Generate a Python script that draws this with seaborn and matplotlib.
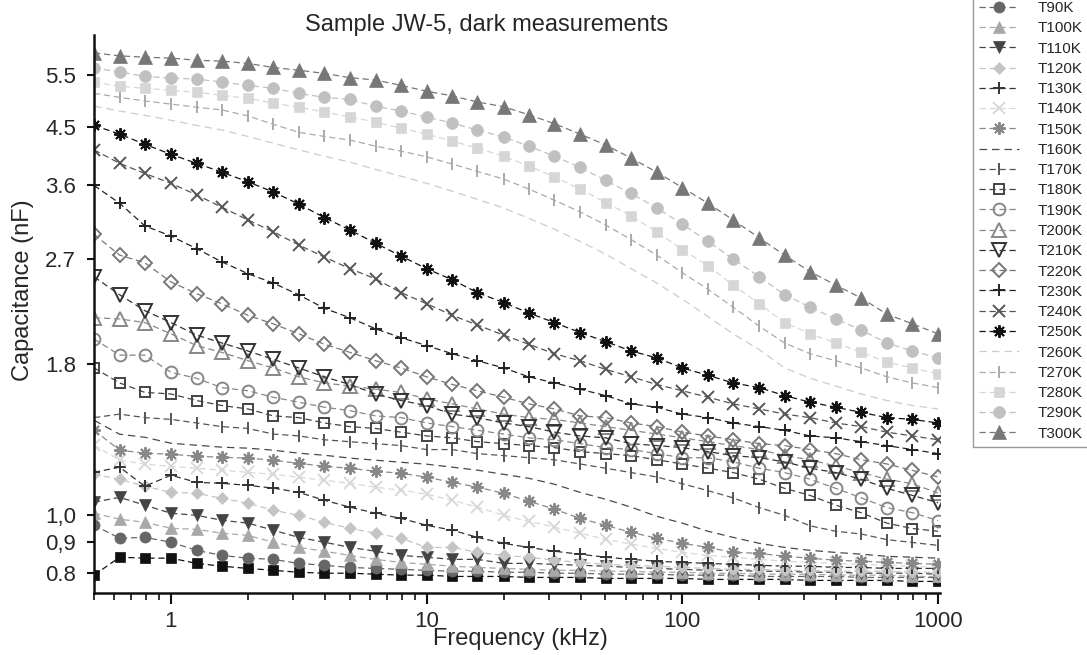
import matplotlib
matplotlib.use("Agg")
import matplotlib.pyplot as plt
from matplotlib.ticker import FixedLocator, FixedFormatter, LogLocator, NullFormatter, NullLocator
import seaborn as sns

# frequencies (kHz), 10 points per decade
freq = [0.5, 0.63, 0.79, 1.0, 1.26, 1.58, 2.0, 2.51, 3.16, 3.98,
        5.01, 6.31, 7.94, 10, 12.6, 15.8, 20, 25.1, 31.6, 39.8,
        50.1, 63.1, 79.4, 100, 126, 158, 200, 251, 316, 398,
        501, 631, 794, 1000]

# capacitance (nF) per temperature
T80K = [0.793, 0.850, 0.847, 0.847, 0.830, 0.821, 0.814, 0.808, 0.802, 0.799, 0.799, 0.796, 0.793, 0.793, 0.789, 0.789, 0.789,
        0.786, 0.786, 0.786, 0.783, 0.783, 0.783, 0.783, 0.780, 0.780, 0.780, 0.780, 0.777, 0.777, 0.777, 0.777, 0.774, 0.774]
T90K = [0.962, 0.915, 0.918, 0.901, 0.873, 0.856, 0.847, 0.843, 0.830, 0.824, 0.817, 0.814, 0.811, 0.808, 0.805, 0.805, 0.802,
        0.802, 0.799, 0.799, 0.796, 0.796, 0.796, 0.793, 0.793, 0.793, 0.789, 0.789, 0.789, 0.789, 0.786, 0.786, 0.786, 0.786]
T100K = [1.008, 0.985, 0.973, 0.951, 0.947, 0.933, 0.925, 0.901, 0.883, 0.870, 0.856, 0.843, 0.833, 0.827, 0.821, 0.817, 0.814,
         0.811, 0.808, 0.808, 0.805, 0.805, 0.802, 0.802, 0.799, 0.799, 0.796, 0.796, 0.796, 0.793, 0.793, 0.793, 0.789, 0.789]
T110K = [1.052, 1.072, 1.040, 1.008, 1.000, 0.981, 0.970, 0.944, 0.918, 0.901, 0.883, 0.870, 0.856, 0.850, 0.843, 0.843, 0.830,
         0.830, 0.827, 0.824, 0.821, 0.817, 0.814, 0.811, 0.808, 0.808, 0.805, 0.805, 0.802, 0.802, 0.799, 0.799, 0.799, 0.796]
T120K = [1.172, 1.150, 1.119, 1.093, 1.089, 1.068, 1.048, 1.020, 1.000, 0.973, 0.951, 0.933, 0.915, 0.883, 0.883, 0.866, 0.856,
         0.850, 0.840, 0.833, 0.827, 0.824, 0.821, 0.817, 0.814, 0.811, 0.811, 0.808, 0.808, 0.805, 0.805, 0.805, 0.802, 0.802]
T130K = [1.181, 1.205, 1.119, 1.168, 1.136, 1.132, 1.123, 1.111, 1.093, 1.060, 1.032, 1.008, 0.988, 0.962, 0.944, 0.918, 0.897,
         0.883, 0.870, 0.860, 0.850, 0.843, 0.837, 0.833, 0.830, 0.827, 0.824, 0.821, 0.821, 0.817, 0.817, 0.814, 0.814, 0.814]
T140K = [1.312, 1.238, 1.219, 1.209, 1.200, 1.191, 1.181, 1.172, 1.159, 1.145, 1.132, 1.115, 1.102, 1.085, 1.060, 1.032, 1.000,
         0.977, 0.955, 0.933, 0.911, 0.894, 0.880, 0.866, 0.856, 0.850, 0.843, 0.837, 0.833, 0.830, 0.827, 0.824, 0.821, 0.817]
T150K = [1.390, 1.287, 1.272, 1.267, 1.257, 1.252, 1.248, 1.238, 1.223, 1.209, 1.200, 1.186, 1.177, 1.159, 1.136, 1.115, 1.089,
         1.056, 1.024, 0.988, 0.962, 0.936, 0.915, 0.897, 0.883, 0.866, 0.863, 0.853, 0.847, 0.840, 0.837, 0.833, 0.830, 0.827]
T160K = [1.445, 1.369, 1.353, 1.322, 1.312, 1.302, 1.297, 1.287, 1.272, 1.262, 1.248, 1.238, 1.228, 1.219, 1.205, 1.191, 1.172,
         1.154, 1.128, 1.093, 1.064, 1.032, 0.996, 0.970, 0.940, 0.918, 0.897, 0.883, 0.873, 0.866, 0.860, 0.853, 0.850, 0.847]
T170K = [1.46, 1.48, 1.46, 1.45, 1.43, 1.41, 1.40, 1.37, 1.36, 1.34, 1.33, 1.32, 1.31, 1.29, 1.29, 1.27, 1.26,
         1.25, 1.24, 1.22, 1.20, 1.18, 1.16, 1.13, 1.10, 1.07, 1.03, 1.00, 0.96, 0.94, 0.93, 0.91, 0.90, 0.89]
T180K = [1.77, 1.67, 1.61, 1.60, 1.56, 1.53, 1.51, 1.47, 1.46, 1.43, 1.41, 1.40, 1.38, 1.36, 1.35, 1.33, 1.32,
         1.31, 1.30, 1.28, 1.27, 1.26, 1.24, 1.22, 1.20, 1.18, 1.15, 1.11, 1.08, 1.04, 1.01, 0.97, 0.95, 0.94]
T190K = [1.98, 1.86, 1.86, 1.74, 1.70, 1.64, 1.62, 1.58, 1.55, 1.52, 1.50, 1.47, 1.46, 1.43, 1.41, 1.39, 1.37,
         1.35, 1.34, 1.32, 1.30, 1.29, 1.27, 1.25, 1.25, 1.23, 1.20, 1.18, 1.15, 1.11, 1.07, 1.03, 1.01, 0.98]
T200K = [2.15, 2.14, 2.11, 2.02, 1.93, 1.88, 1.82, 1.77, 1.71, 1.67, 1.65, 1.63, 1.61, 1.57, 1.54, 1.51, 1.48,
         1.46, 1.45, 1.43, 1.41, 1.39, 1.37, 1.35, 1.33, 1.31, 1.29, 1.26, 1.24, 1.21, 1.18, 1.15, 1.13, 1.09]
T210K = [2.52, 2.35, 2.21, 2.11, 2.01, 1.95, 1.89, 1.83, 1.77, 1.71, 1.66, 1.60, 1.56, 1.53, 1.48, 1.46, 1.43,
         1.41, 1.38, 1.36, 1.35, 1.32, 1.31, 1.30, 1.28, 1.26, 1.25, 1.23, 1.20, 1.18, 1.15, 1.11, 1.08, 1.05]
T220K = [2.97, 2.74, 2.66, 2.47, 2.36, 2.27, 2.17, 2.10, 2.02, 1.94, 1.88, 1.82, 1.77, 1.71, 1.66, 1.62, 1.58,
         1.54, 1.51, 1.47, 1.46, 1.43, 1.41, 1.38, 1.36, 1.34, 1.32, 1.31, 1.29, 1.27, 1.24, 1.22, 1.19, 1.16]
T230K = [3.59, 3.35, 3.07, 2.95, 2.81, 2.67, 2.55, 2.46, 2.35, 2.23, 2.15, 2.06, 1.99, 1.93, 1.87, 1.82, 1.77,
         1.71, 1.67, 1.63, 1.59, 1.54, 1.52, 1.48, 1.46, 1.43, 1.41, 1.39, 1.36, 1.35, 1.33, 1.31, 1.29, 1.27]
T240K = [4.12, 3.91, 3.76, 3.62, 3.46, 3.30, 3.14, 3.00, 2.85, 2.72, 2.60, 2.50, 2.37, 2.27, 2.17, 2.09, 2.01,
         1.94, 1.87, 1.82, 1.76, 1.71, 1.66, 1.62, 1.58, 1.54, 1.51, 1.48, 1.46, 1.43, 1.41, 1.38, 1.36, 1.34]
T250K = [4.53, 4.38, 4.21, 4.05, 3.91, 3.78, 3.64, 3.50, 3.34, 3.17, 3.02, 2.87, 2.73, 2.60, 2.49, 2.37, 2.28,
         2.19, 2.11, 2.03, 1.96, 1.89, 1.84, 1.77, 1.72, 1.67, 1.64, 1.59, 1.55, 1.52, 1.49, 1.46, 1.45, 1.43]
T260K = [4.88, 4.79, 4.71, 4.62, 4.53, 4.45, 4.34, 4.23, 4.12, 4.02, 3.93, 3.82, 3.72, 3.62, 3.51, 3.40, 3.29,
         3.16, 3.03, 2.89, 2.75, 2.60, 2.46, 2.31, 2.16, 2.02, 1.90, 1.77, 1.70, 1.65, 1.60, 1.56, 1.53, 1.51]
T270K = [5.13, 5.05, 4.98, 4.92, 4.86, 4.81, 4.70, 4.55, 4.41, 4.34, 4.28, 4.18, 4.10, 4.01, 3.90, 3.79, 3.68,
         3.54, 3.39, 3.24, 3.08, 2.91, 2.74, 2.56, 2.40, 2.24, 2.08, 1.95, 1.87, 1.82, 1.77, 1.71, 1.67, 1.64]
T280K = [5.36, 5.27, 5.23, 5.19, 5.15, 5.09, 5.03, 4.94, 4.86, 4.77, 4.68, 4.59, 4.48, 4.38, 4.26, 4.15, 4.02,
         3.87, 3.71, 3.54, 3.36, 3.19, 3.00, 2.80, 2.63, 2.44, 2.27, 2.11, 2.02, 1.95, 1.88, 1.81, 1.77, 1.73]
T290K = [5.66, 5.57, 5.48, 5.44, 5.42, 5.36, 5.29, 5.23, 5.13, 5.05, 5.01, 4.88, 4.79, 4.68, 4.57, 4.45, 4.33,
         4.18, 4.02, 3.85, 3.66, 3.48, 3.29, 3.09, 2.89, 2.70, 2.52, 2.35, 2.24, 2.14, 2.05, 1.95, 1.89, 1.84]
T300K = [6.00, 5.93, 5.90, 5.88, 5.83, 5.81, 5.76, 5.67, 5.61, 5.54, 5.45, 5.40, 5.29, 5.17, 5.08, 4.96, 4.87,
         4.72, 4.56, 4.38, 4.20, 3.99, 3.78, 3.56, 3.35, 3.14, 2.93, 2.74, 2.57, 2.44, 2.32, 2.18, 2.10, 2.02]

ytick_vals = [0.8, 0.9, 1.0, 1.8, 2.7, 3.6, 4.5, 5.5]
ytick_labels = ["0.8", "0,9", "1,0", "1.8", "2.7", "3.6", "4.5", "5.5"]
xtick_vals = [1, 10, 100, 1000]
xtick_labels = ["1", "10", "100", "1000"]

ASTER = (8, 2, 0)
# name, data, marker, size, color, filled, dash
series = [
    ("T80K", T80K, "s", 7, "#111111", True, (5, 3)),
    ("T90K", T90K, "o", 8, "#666666", True, (5, 3)),
    ("T100K", T100K, "^", 9, "#a8a8a8", True, (5, 3)),
    ("T110K", T110K, "v", 9, "#444444", True, (5, 3)),
    ("T120K", T120K, "D", 6.5, "#c4c4c4", True, (5, 3)),
    ("T130K", T130K, "+", 8, "#333333", True, (5, 3)),
    ("T140K", T140K, "x", 9, "#d8d8d8", True, (5, 3)),
    ("T150K", T150K, ASTER, 9, "#888888", True, (5, 3)),
    ("T160K", T160K, "None", 0, "#4a4a4a", True, (6, 4)),
    ("T170K", T170K, "|", 9, "#555555", True, (5, 3)),
    ("T180K", T180K, "s", 7.5, "#444444", False, (5, 3)),
    ("T190K", T190K, "o", 8.5, "#888888", False, (5, 3)),
    ("T200K", T200K, "^", 9.5, "#888888", False, (5, 3)),
    ("T210K", T210K, "v", 9.5, "#333333", False, (5, 3)),
    ("T220K", T220K, "D", 7, "#777777", False, (5, 3)),
    ("T230K", T230K, "+", 8, "#222222", True, (5, 3)),
    ("T240K", T240K, "x", 9, "#555555", True, (5, 3)),
    ("T250K", T250K, ASTER, 9, "#111111", True, (5, 3)),
    ("T260K", T260K, "None", 0, "#cccccc", True, (6, 4)),
    ("T270K", T270K, "|", 9, "#aaaaaa", True, (5, 3)),
    ("T280K", T280K, "s", 7.5, "#d6d6d6", True, (5, 3)),
    ("T290K", T290K, "o", 8.5, "#c0c0c0", True, (5, 3)),
    ("T300K", T300K, "^", 10, "#777777", True, (5, 3)),
]

sns.set_style("ticks")
plt.rcParams["font.family"] = ["Liberation Sans", "DejaVu Sans"]

fig = plt.figure(figsize=(10.87, 6.55), dpi=100)
ax = fig.add_axes([94 / 1087, 62 / 655, 846 / 1087, 558 / 655])

for name, vals, mk, ms, col, filled, dash in series:
    line_marks = mk in ("+", "x", "|", ASTER)
    sns.lineplot(x=freq, y=vals, ax=ax, errorbar=None, legend=False, label=name,
                 color=col, linewidth=0.9, linestyle=(0, dash),
                 marker=mk, markersize=ms,
                 markerfacecolor=(col if filled else "none"),
                 markeredgecolor=col,
                 markeredgewidth=(1.4 if (line_marks or not filled) else 0.5))

ax.set_xscale("log")
ax.set_yscale("log")
ax.set_xlim(0.5, 1018)
ax.set_ylim(0.74, 6.43)

ax.xaxis.set_major_locator(FixedLocator(xtick_vals))
ax.xaxis.set_major_formatter(FixedFormatter(xtick_labels))
ax.xaxis.set_minor_locator(LogLocator(base=10, subs=[2, 3, 4, 5, 6, 7, 8, 9]))
ax.xaxis.set_minor_formatter(NullFormatter())
ax.yaxis.set_major_locator(FixedLocator(ytick_vals))
ax.yaxis.set_major_formatter(FixedFormatter(ytick_labels))
ax.yaxis.set_minor_locator(NullLocator())

ax.tick_params(axis="x", which="major", length=8, width=1.5, labelsize=16, pad=5, color="#111")
ax.tick_params(axis="x", which="minor", length=5, width=1.2, color="#111")
ax.tick_params(axis="y", which="major", length=5, width=1.5, labelsize=16, pad=8, color="#111")

sns.despine(ax=ax)
for s in ("left", "bottom"):
    ax.spines[s].set_linewidth(1.8)
    ax.spines[s].set_color("#111111")

ax.set_xlabel("Frequency (kHz)", fontsize=17)
ax.set_ylabel("Capacitance (nF)", fontsize=17)
ax.xaxis.set_label_coords(0.5035, -0.062)
ax.yaxis.set_label_coords(-0.071, 0.543)

fig.text(487 / 1087, 1 - 25 / 655, "Sample JW-5, dark measurements",
         ha="center", va="center", fontsize=17)

# legend starts at T90K; its top edge runs off the figure like the scan
handles, labels = ax.get_legend_handles_labels()
handles, labels = handles[1:], labels[1:]
leg = ax.legend(handles, labels, loc="upper left",
                bbox_to_anchor=(973 / 1087, 1 + 5 / 655),
                bbox_transform=fig.transFigure,
                fontsize=11, labelspacing=0.41, handlelength=2.6,
                handletextpad=1.2, borderpad=0.4, borderaxespad=0,
                frameon=True, fancybox=False, framealpha=1,
                edgecolor="#999999", numpoints=1)
leg.get_frame().set_linewidth(1.0)

fig.savefig("out.png", dpi=100)
